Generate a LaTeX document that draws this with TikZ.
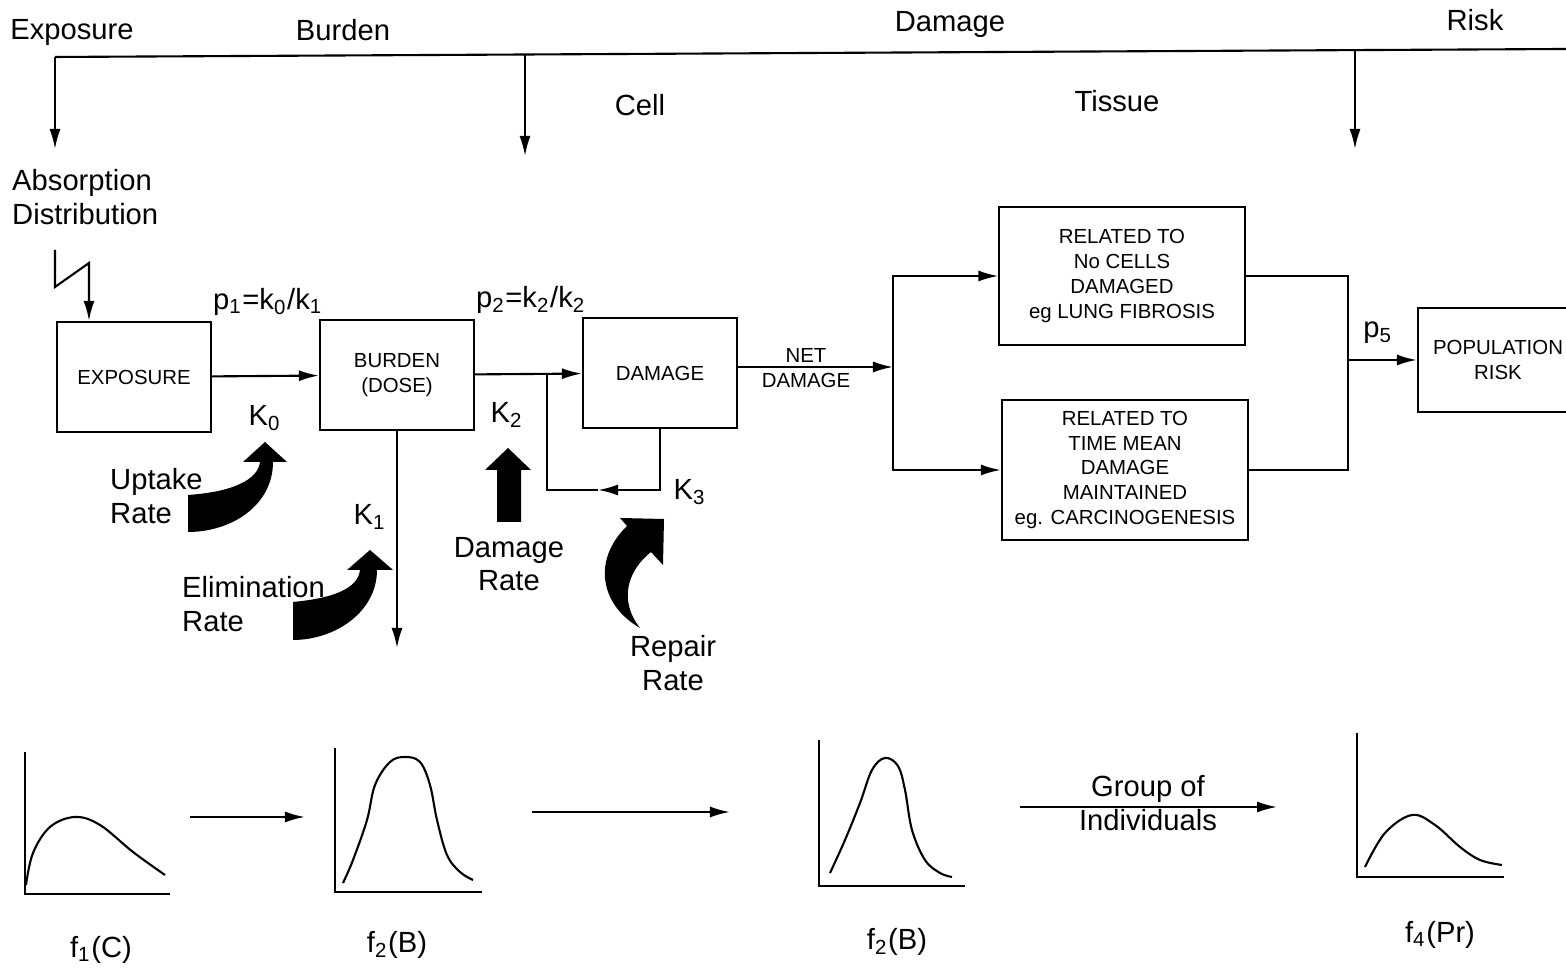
\documentclass[tikz,border=0pt]{standalone}
\usepackage{fontspec}
\setmainfont{Liberation Sans}
\usepackage{tikz}
\usetikzlibrary{arrows.meta}
\newcommand{\boxfont}{\fontsize{5.8}{7.1}\selectfont}
\newcommand{\lblfont}{\fontsize{8.3}{9.6}\selectfont}
\tikzset{
  blk/.style={draw, line width=0.6pt, align=center, font=\boxfont, inner sep=1pt},
  lbl/.style={font=\lblfont, inner sep=1pt, align=center},
  lbll/.style={lbl, align=left, anchor=west},
  arr/.style={-{Latex[length=2mm,width=1.1mm]}, line width=0.6pt},
  wire/.style={line width=0.6pt},
  axis/.style={line width=0.6pt},
  pdf/.style={line width=0.6pt, smooth, tension=0.6},
  blob/.style={fill=black},
}

\begin{document}
\begin{tikzpicture}[x=0.01cm, y=-0.01cm]
  \useasboundingbox (0,0) rectangle (1566,971);
  % stage headings and top bar
  \node[lbl] (h-exp) at (72,33) {Exposure};
  \node[lbl] (h-bur) at (343,30) {Burden};
  \node[lbl] (h-dam) at (950,25) {Damage};
  \node[lbl] (h-ris) at (1475,20) {Risk};
  \coordinate (barL) at (55,57);
  \coordinate (barR) at (1566,49);
  \draw[wire] (barL) -- (barR);
  \foreach \n/\x/\y/\e in {ex/55/57/149, ce/525/54.5/156, ri/1355/50.1/149} {
    \coordinate (top-\n) at (\x,\y);
    \coordinate (dn-\n) at (\x,\e);
    \draw[arr] (top-\n) -- (dn-\n);
  }
  \node[lbl] (cell) at (640,105) {Cell};
  \node[lbl] (tissue) at (1117,101) {Tissue};
  \node[lbll] (absorb) at (8,197) {Absorption\\Distribution};

  % main chain
  \node[blk, minimum width=1.54cm, minimum height=1.10cm] (expo) at (134,377) {EXPOSURE};
  \node[blk, minimum width=1.54cm, minimum height=1.10cm] (burden) at (397,375) {BURDEN\\(DOSE)};
  \node[blk, minimum width=1.54cm, minimum height=1.10cm] (dmg) at (660,373) {DAMAGE};
  \node[blk, minimum width=2.45cm, minimum height=1.38cm] (rel1) at (1122,276)
    {RELATED TO\\No CELLS\\DAMAGED\\eg LUNG FIBROSIS};
  \node[blk, minimum width=2.46cm, minimum height=1.40cm] (rel2) at (1125,470)
    {RELATED TO\\TIME MEAN\\DAMAGE\\MAINTAINED\\eg. CARCINOGENESIS};
  \node[blk, minimum width=1.6cm, minimum height=1.04cm] (pop) at (1498,360) {POPULATION\\RISK};

  \coordinate (zz) at (55,250);
  \coordinate (zzk) at (89,263);
  \draw[arr] (zz) -- (55,287) -- (zzk) -- (zzk |- expo.north);
  \draw[arr] (expo) -- (burden);
  \draw[arr] (burden) -- (dmg);
  \node[lbl] (p1) at (268,302) {p\textsubscript{1}=k\textsubscript{0}/k\textsubscript{1}};
  \node[lbl] (p2) at (531,300) {p\textsubscript{2}=k\textsubscript{2}/k\textsubscript{2}};

  % elimination and repair loop
  \coordinate (elim) at (397,648);
  \draw[arr] (burden.south) -- (elim);
  \coordinate (fbL) at (547,490);
  \coordinate (fbM) at (598,490);
  \coordinate (fbR) at (660,490);
  \draw[arr] (dmg.south) -- (fbR) -- (fbM);
  \draw[wire] (fbM) -- (fbL) -- (fbL |- dmg.west);

  % split and merge
  \coordinate (split) at (893,367);
  \draw[arr] (dmg.east |- split) -- (split);
  \node[lbl, font=\boxfont] (netdmg) at (806,368) {NET\\DAMAGE};
  \draw[arr] (split) |- (rel1);
  \draw[arr] (split) |- (rel2);
  \coordinate (join) at (1348,360);
  \draw[wire] (rel1.east) -| (join);
  \draw[wire] (rel2.east) -| (join);
  \draw[arr] (join) -- (pop);
  \node[lbl] (p5) at (1378,333) {p\textsubscript{5}};

  % rate constants
  \node[lbl] (k0) at (265,418) {K\textsubscript{0}};
  \node[lbl] (k1) at (370,517) {K\textsubscript{1}};
  \node[lbl] (k2) at (507,415) {K\textsubscript{2}};
  \node[lbl] (k3) at (690,492) {K\textsubscript{3}};

  % block arrows
  \fill[blob] (188,495) .. controls (232,492) and (258,480) .. (260,462) -- (243,462) -- (265,442)
    -- (287,462) -- (273,462) .. controls (273,505) and (232,532) .. (188,532) -- cycle;
  \fill[blob] (293,602) .. controls (335,598) and (358,588) .. (360,570) -- (347,570) -- (370,550)
    -- (393,570) -- (377,570) .. controls (377,612) and (335,640) .. (293,640) -- cycle;
  \fill[blob] (497,522) -- (497,470) -- (485,470) -- (508,448) -- (531,470) -- (521,470) -- (521,522) -- cycle;
  \fill[blob] (640,628) .. controls (600,605) and (592,560) .. (627,526) -- (620,518) -- (664,519)
    -- (663,565) -- (651,552) .. controls (628,570) and (618,600) .. (640,628) -- cycle;
  \node[lbll] (uptake) at (106,496) {Uptake\\Rate};
  \node[lbll] (elimr) at (178,604) {Elimination\\Rate};
  \node[lbl] (dmgr) at (509,564) {Damage\\Rate};
  \node[lbl] (repr) at (673,663) {Repair\\Rate};

  % distributions
  \draw[axis] (25,752) -- (25,894) -- (170,894);
  \draw[pdf] plot coordinates {(26,885) (33,853) (50,827) (75,817) (100,825) (133,852) (165,875)};
  \draw[axis] (335,748) -- (335,892) -- (482,892);
  \draw[pdf] plot coordinates {(343,883) (353,860) (367,820) (375,785) (390,762) (405,757) (420,762)
    (430,785) (437,820) (447,855) (460,872) (473,880)};
  \draw[axis] (819,740) -- (819,886) -- (965,886);
  \draw[pdf] plot coordinates {(830,873) (845,840) (860,803) (872,770) (885,758) (898,766) (905,790)
    (912,830) (925,860) (940,873) (952,877)};
  \draw[axis] (1357,733) -- (1357,877) -- (1504,877);
  \draw[pdf] plot coordinates {(1365,867) (1385,833) (1412,815) (1435,825) (1460,847) (1480,860) (1502,865)};
  \foreach \n/\a/\b/\y in {a/190/305/817, b/532/730/812, c/1020/1277/807} {
    \coordinate (from-\n) at (\a,\y);
    \coordinate (to-\n) at (\b,\y);
    \draw[arr] (from-\n) -- (to-\n);
  }
  \node[lbl] (group) at (1148,803) {Group of\\Individuals};
  \node[lbl] (f1) at (101,950) {f\textsubscript{1}(C)};
  \node[lbl] (f2) at (397,945) {f\textsubscript{2}(B)};
  \node[lbl] (f2b) at (897,942) {f\textsubscript{2}(B)};
  \node[lbl] (f4) at (1440,935) {f\textsubscript{4}(Pr)};
\end{tikzpicture}
\end{document}
